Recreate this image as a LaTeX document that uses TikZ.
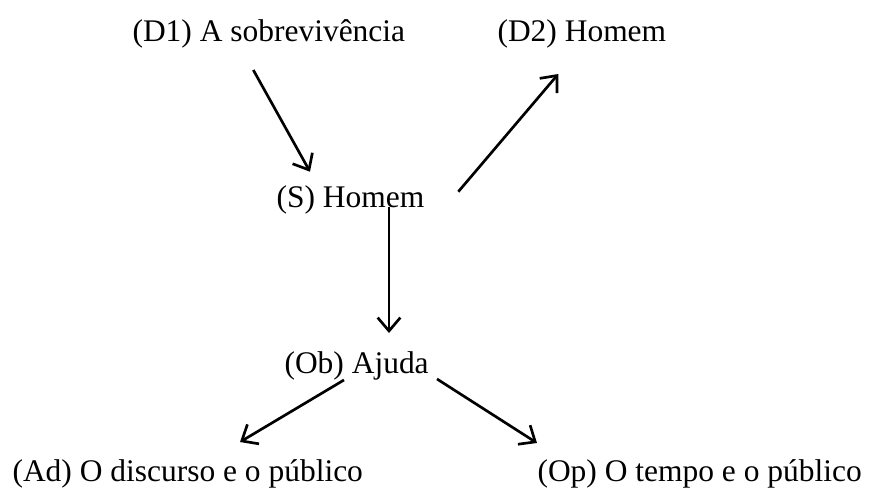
\documentclass[tikz,border=0pt]{standalone}
\usepackage{fontspec}
\setmainfont{Liberation Serif}
\usetikzlibrary{arrows.meta}
\begin{document}
\begin{tikzpicture}[x=0.375pt,y=-0.375pt,
  lbl/.style={inner sep=0pt,anchor=base west,font=\fontsize{11.8pt}{14pt}\selectfont},
  conn/.style={line width=1pt,-{Straight Barb[length=5pt,width=8.5pt,line width=1pt]}}]
\useasboundingbox (0,0) rectangle (869,489);
\node[lbl] (d1) at (132,41.7) {(D1) A sobrevivência};
\node[lbl] (d2) at (497,41.7) {(D2) Homem};
\node[lbl] (s)  at (276,207) {(S) Homem};
\node[lbl] (ob) at (284,373) {(Ob) Ajuda};
\node[lbl] (ad) at (12,481) {(Ad) O discurso e o público};
\node[lbl] (op) at (537,481) {(Op) O tempo e o público};
\draw[conn] ([shift={(121.3,28.3)}]d1.base west) -- ([shift={(34,-35.3)}]s.base west);
\draw[conn] ([shift={(182.3,-15.3)}]s.base west) -- ([shift={(61.3,32.3)}]d2.base west);
\draw[conn] ([shift={(113,0)}]s.base west) -- ([shift={(105,-40)}]ob.base west);
\draw[conn] ([shift={(60,7)}]ob.base west) -- ([shift={(228,-39)}]ad.base west);
\draw[conn] ([shift={(153,6)}]ob.base west) -- ([shift={(0,-38)}]op.base west);
\end{tikzpicture}
\end{document}
